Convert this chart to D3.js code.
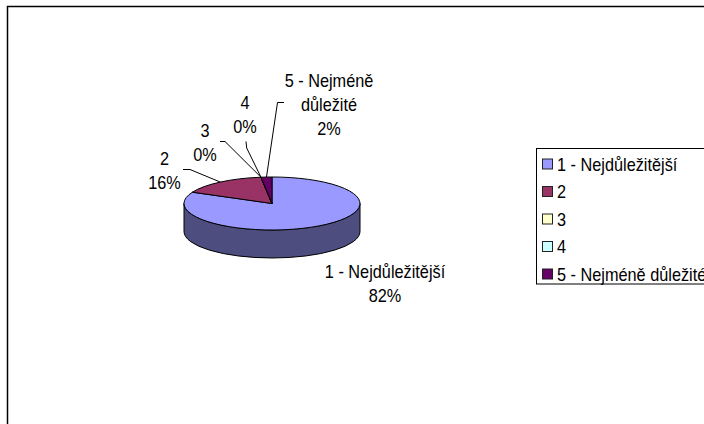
<!DOCTYPE html>
<html>
<head>
<meta charset="utf-8">
<style>
  html, body { margin: 0; padding: 0; background: #fff; overflow: hidden; }
  svg { display: block; }
  text { font-family: "Liberation Sans", Arial, sans-serif; font-size: 18px; fill: #000; }
</style>
<script src="https://cdn.jsdelivr.net/npm/d3@7"></script>
</head>
<body>
<svg id="chart" width="704" height="424"></svg>
<script>
const categories = ["1 - Nejdůležitější", "2", "3", "4", "5 - Nejméně důležité"];
const values = [82, 16, 0, 0, 2];
const percentLabels = ["82%", "16%", "0%", "0%", "2%"];
const colors = ["#9999FF", "#993366", "#FFFFCC", "#CCFFFF", "#660066"];
const wallColor = "#4D4D80";

const svg = d3.select("#chart");

// Type is set slightly condensed
const textWidthScale = 0.905;
const placeText = (sel, x, y) => sel.attr("transform", `translate(${x},${y}) scale(${textWidthScale},1)`);

// Chart frame runs past the right and bottom edges of the page
svg.append("rect")
  .attr("x", 7.5).attr("y", 6.5).attr("width", 760).attr("height", 480)
  .attr("fill", "#fff").attr("stroke", "#000").attr("stroke-width", 1.5);

// Tilted pie geometry
const cx = 272, cy = 203.5, rx = 88, ry = 26.5, depth = 28;
const pie = d3.pie().value(d => d).sort(null)(values);
const onRim = a => [cx + rx * Math.sin(a), cy - ry * Math.cos(a)];

// Side wall: lower half of the ellipse extruded downward
svg.append("path")
  .attr("d", `M${cx - rx},${cy}V${cy + depth}A${rx},${ry} 0 0 0 ${cx + rx},${cy + depth}V${cy}A${rx},${ry} 0 0 1 ${cx - rx},${cy}Z`)
  .attr("fill", wallColor).attr("stroke", "#000").attr("stroke-width", 1);

// Top face slices, drawn on a unit circle and squashed to the ellipse
const arc = d3.arc().innerRadius(0).outerRadius(1);
svg.append("g")
  .attr("transform", `translate(${cx},${cy}) scale(${rx},${ry})`)
  .selectAll("path")
  .data(pie)
  .join("path")
  .attr("d", arc)
  .attr("fill", (d, i) => colors[i])
  .attr("stroke", "#000")
  .attr("stroke-width", 1)
  .attr("vector-effect", "non-scaling-stroke");

// Leader lines start on the rim at each slice's middle angle
const leaderBends = [null, [[190, 169.5], [183, 169.5]], [[225, 141.5], [220, 141.5]], [[246.7, 148], [246, 141.5]], [[277.5, 102.5], [284, 102.5]]];
const line = d3.line();
pie.forEach((d, i) => {
  if (!leaderBends[i]) return;
  const mid = (d.startAngle + d.endAngle) / 2;
  svg.append("path")
    .attr("d", line([onRim(mid), ...leaderBends[i]]))
    .attr("fill", "none").attr("stroke", "#000").attr("stroke-width", 1);
});

// Data labels
const labelBoxes = [
  { x: 385, y: 278, lines: [categories[0], percentLabels[0]] },
  { x: 164.5, y: 165, lines: [categories[1], percentLabels[1]] },
  { x: 205, y: 137, lines: [categories[2], percentLabels[2]] },
  { x: 245, y: 108.5, lines: [categories[3], percentLabels[3]] },
  { x: 329, y: 86.5, lines: ["5 - Nejméně", "důležité", percentLabels[4]] }
];
labelBoxes.forEach(b => {
  b.lines.forEach((t, j) => {
    svg.append("text")
      .call(placeText, b.x, b.y + j * 24.3)
      .attr("text-anchor", "middle")
      .text(t);
  });
});

// Legend, clipped by the page edge like the frame
const legend = svg.append("g");
legend.append("rect")
  .attr("x", 536.5).attr("y", 148.5).attr("width", 220).attr("height", 135.5)
  .attr("fill", "#fff").attr("stroke", "#000").attr("stroke-width", 1);
const rowY = d3.scalePoint().domain(categories).range([164, 274]);
categories.forEach((c, i) => {
  legend.append("rect")
    .attr("x", 542.5).attr("y", rowY(c) - 5).attr("width", 10).attr("height", 10)
    .attr("fill", colors[i]).attr("stroke", "#222").attr("stroke-width", 1);
  legend.append("text")
    .call(placeText, 557, rowY(c) + 6.5)
    .text(c);
});
</script>
</body>
</html>
